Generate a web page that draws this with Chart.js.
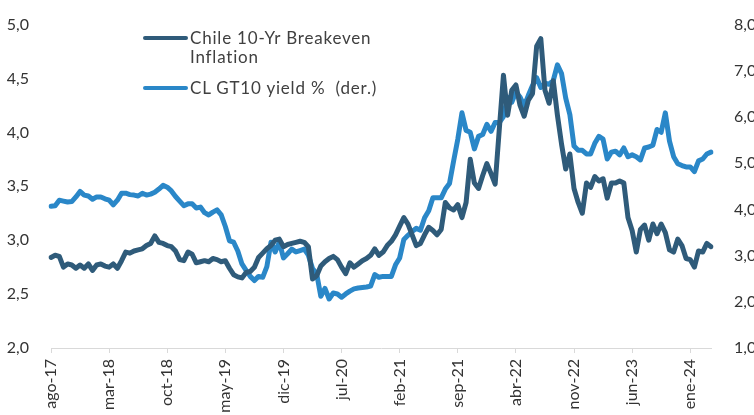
<!DOCTYPE html>
<html><head><meta charset="utf-8">
<script src="https://cdn.jsdelivr.net/npm/chart.js@4/dist/chart.umd.min.js"></script>
<style>
html,body{margin:0;padding:0;background:#fff;}
#wrap{position:relative;width:754px;height:415px;overflow:hidden;}
canvas{display:block;}
.leg{position:absolute;left:143px;font-family:Lato,sans-serif;font-size:17px;letter-spacing:0.8px;color:#404040;line-height:19px;}
.leg .sw{position:absolute;left:0;top:8px;width:45px;height:4px;border-radius:2px;}
.leg .tx{margin-left:47px;width:205px;white-space:pre-wrap;}
</style></head>
<body><div id="wrap"><canvas id="c" width="754" height="415"></canvas><div id="legend"></div></div>
<script>
const tickLabels = ['ago-17','mar-18','oct-18','may-19','dic-19','jul-20','feb-21','sep-21','abr-22','nov-22','jun-23','ene-24'];
const seriesNames = ['Chile 10-Yr Breakeven Inflation', 'CL GT10 yield %  (der.)'];
// Semi-monthly readings, Aug 2017 - Apr 2024
const breakeven = [2.84,2.86,2.85,2.75,2.78,2.77,2.74,2.77,2.74,2.78,
2.72,2.77,2.78,2.76,2.75,2.78,2.74,2.81,2.89,2.88,
2.90,2.91,2.92,2.95,2.97,3.04,2.98,2.97,2.95,2.94,
2.90,2.82,2.81,2.89,2.87,2.79,2.80,2.81,2.80,2.83,
2.82,2.80,2.81,2.74,2.68,2.66,2.65,2.70,2.71,2.75,
2.84,2.88,2.92,2.95,3.00,3.01,2.94,2.96,2.97,2.98,
2.99,2.98,2.94,2.64,2.67,2.76,2.80,2.83,2.85,2.82,
2.75,2.69,2.79,2.75,2.78,2.81,2.83,2.86,2.92,2.86,
2.89,2.95,2.99,3.05,3.13,3.21,3.15,3.05,2.95,2.97,
3.05,3.12,3.09,3.05,3.10,3.35,3.30,3.28,3.33,3.21,
3.35,3.75,3.53,3.48,3.60,3.71,3.62,3.52,4.03,4.53,
4.16,4.39,4.44,4.25,4.15,4.30,4.36,4.80,4.87,4.39,
4.27,4.48,4.16,3.89,3.66,3.80,3.48,3.35,3.25,3.53,
3.49,3.59,3.55,3.57,3.39,3.53,3.53,3.55,3.53,3.21,
3.09,2.89,3.10,3.14,3.00,3.15,3.06,3.15,3.07,2.91,
2.89,3.01,2.95,2.83,2.82,2.75,2.90,2.89,2.97,2.94];
const gt10 = [4.07,4.08,4.20,4.18,4.16,4.17,4.27,4.39,4.31,4.29,
4.22,4.27,4.27,4.23,4.20,4.10,4.20,4.35,4.35,4.32,
4.31,4.29,4.35,4.31,4.33,4.37,4.44,4.52,4.48,4.40,
4.28,4.18,4.08,4.12,4.12,4.03,4.05,3.93,3.88,3.94,
3.99,3.88,3.63,3.32,3.29,3.10,2.82,2.68,2.55,2.46,
2.55,2.53,2.76,3.29,3.08,3.29,2.95,3.04,3.14,3.08,
3.11,3.14,3.01,2.72,2.61,2.12,2.29,2.06,2.19,2.17,
2.10,2.17,2.23,2.28,2.30,2.31,2.32,2.34,2.59,2.53,
2.55,2.55,2.55,2.80,2.95,3.35,3.44,3.52,3.59,3.55,
3.82,3.97,4.25,4.25,4.25,4.44,4.56,5.05,5.52,6.09,
5.71,5.67,5.31,5.58,5.62,5.84,5.69,5.88,5.88,6.01,
6.43,6.32,6.54,6.43,6.24,6.47,6.68,6.85,6.64,6.73,
6.71,6.79,7.13,6.94,6.41,6.05,5.37,5.28,5.28,5.20,
5.20,5.43,5.58,5.52,5.09,5.24,5.26,5.18,5.33,5.14,
5.18,5.14,5.07,5.33,5.35,5.39,5.73,5.67,6.09,5.48,
5.14,4.99,4.95,4.92,4.92,4.82,5.05,5.09,5.20,5.24];
const colors = ['#2F5B7A', '#2A87C8'];
const TICK_EVERY = 14; // one labelled tick every 7 months (14 half-months)

const labels = breakeven.map((_, i) => {
  const m = 7 + Math.floor(i / 2);
  const y = 2017 + Math.floor(m / 12);
  return y + '-' + String(m % 12 + 1).padStart(2, '0') + '-' + (i % 2 ? '16' : '01');
});

const font = { family: 'Lato, sans-serif', size: 16 };
const txt = '#333333';
const fmt = v => Number(v).toFixed(1).replace('.', ',');

new Chart(document.getElementById('c'), {
  type: 'line',
  data: {
    labels,
    datasets: [
      { label: seriesNames[0], data: breakeven, yAxisID: 'y', borderColor: colors[0], backgroundColor: colors[0],
        borderWidth: 5, pointRadius: 0, tension: 0, borderCapStyle: 'round', borderJoinStyle: 'round' },
      { label: seriesNames[1], data: gt10, yAxisID: 'y1', borderColor: colors[1], backgroundColor: colors[1],
        borderWidth: 5, pointRadius: 0, tension: 0, borderCapStyle: 'round', borderJoinStyle: 'round' }
    ]
  },
  options: {
    responsive: false,
    animation: false,
    layout: { padding: { top: 18, left: 0, right: 0, bottom: 0 } },
    plugins: { legend: { display: false }, tooltip: { enabled: false } },
    scales: {
      x: {
        type: 'category',
        offset: false,
        grid: { drawOnChartArea: false, drawTicks: true, tickLength: 5,
                color: ctx => (ctx.index % TICK_EVERY === 0 ? '#d9d9d9' : 'rgba(0,0,0,0)') },
        border: { display: true, color: '#d9d9d9', width: 1 },
        ticks: { autoSkip: false, minRotation: 90, maxRotation: 90, padding: 6, color: txt,
                 font: { family: 'Lato, sans-serif', size: 16 },
                 callback: (v, i) => (i % TICK_EVERY === 0 ? tickLabels[i / TICK_EVERY] : '') },
        afterFit: s => { s.height = 67; }
      },
      y: {
        position: 'left', min: 2, max: 5,
        grid: { display: false }, border: { display: false },
        ticks: { stepSize: 0.5, padding: 14, color: txt, font, callback: fmt },
        afterFit: s => { s.width = 51; }
      },
      y1: {
        position: 'right', min: 1, max: 8,
        grid: { display: false }, border: { display: false },
        ticks: { stepSize: 1, padding: 15, color: txt, font, callback: fmt },
        afterFit: s => { s.width = 43; }
      }
    }
  }
});

// HTML legend built from dataset names/colours
const legTops = [28, 78];
const lg = document.getElementById('legend');
seriesNames.forEach((n, i) => {
  const d = document.createElement('div');
  d.className = 'leg';
  d.style.top = legTops[i] + 'px';
  d.innerHTML = '<div class="sw" style="background:' + colors[i] + '"></div><div class="tx"></div>';
  d.querySelector('.tx').textContent = n;
  lg.appendChild(d);
});
</script>
</body></html>
